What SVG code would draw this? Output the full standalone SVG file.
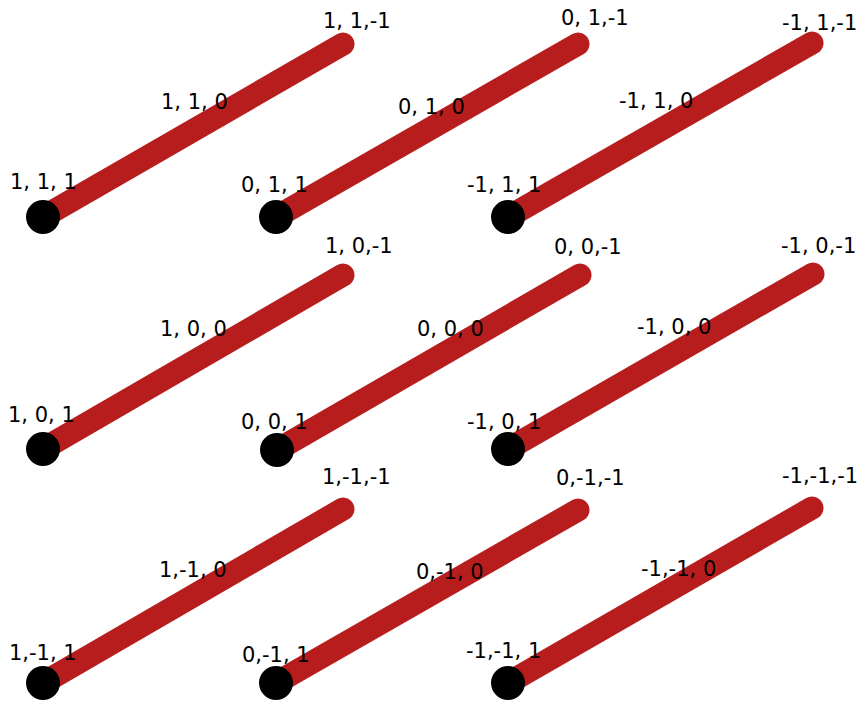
<svg xmlns="http://www.w3.org/2000/svg" width="861" height="701" viewBox="0 0 861 701">
<style>
.edge{stroke:#b81d1e;stroke-width:23;stroke-linecap:round;fill:none}
.dot{fill:#000}
text{font-family:"DejaVu Sans","Liberation Sans",sans-serif;font-size:21px;fill:#000;white-space:pre}
</style>
<rect width="861" height="701" fill="#fff"/>
<g id="connectors">
<line class="edge" x1="43" y1="217" x2="343" y2="44"/>
<line class="edge" x1="276" y1="217" x2="578" y2="44"/>
<line class="edge" x1="508" y1="217" x2="812" y2="43"/>
<line class="edge" x1="43" y1="449" x2="343" y2="275"/>
<line class="edge" x1="277" y1="450" x2="580" y2="275"/>
<line class="edge" x1="508" y1="449" x2="813" y2="274"/>
<line class="edge" x1="43" y1="683" x2="343" y2="509"/>
<line class="edge" x1="276" y1="683" x2="578" y2="510"/>
<line class="edge" x1="508" y1="683" x2="812" y2="508"/>
</g>
<g id="n_1_1">
<circle class="dot" cx="43" cy="217" r="17"/>
<text x="10" y="189">1, 1, 1</text>
<text x="161" y="109">1, 1, 0</text>
<text x="323" y="28">1, 1,-1</text>
</g>
<g id="n_0_1">
<circle class="dot" cx="276" cy="217" r="17"/>
<text x="241" y="192">0, 1, 1</text>
<text x="398" y="114">0, 1, 0</text>
<text x="561" y="25">0, 1,-1</text>
</g>
<g id="n_m1_1">
<circle class="dot" cx="508" cy="217" r="17"/>
<text x="467" y="192">-1, 1, 1</text>
<text x="619" y="108">-1, 1, 0</text>
<text x="782" y="30">-1, 1,-1</text>
</g>
<g id="n_1_0">
<circle class="dot" cx="43" cy="449" r="17"/>
<text x="8" y="422">1, 0, 1</text>
<text x="160" y="336">1, 0, 0</text>
<text x="325" y="253">1, 0,-1</text>
</g>
<g id="n_0_0">
<circle class="dot" cx="277" cy="450" r="17"/>
<text x="241" y="429">0, 0, 1</text>
<text x="417" y="336">0, 0, 0</text>
<text x="554" y="254">0, 0,-1</text>
</g>
<g id="n_m1_0">
<circle class="dot" cx="508" cy="449" r="17"/>
<text x="467" y="429">-1, 0, 1</text>
<text x="637" y="334">-1, 0, 0</text>
<text x="781" y="253">-1, 0,-1</text>
</g>
<g id="n_1_m1">
<circle class="dot" cx="43" cy="683" r="17"/>
<text x="9" y="660">1,-1, 1</text>
<text x="159" y="577">1,-1, 0</text>
<text x="322" y="484">1,-1,-1</text>
</g>
<g id="n_0_m1">
<circle class="dot" cx="276" cy="683" r="17"/>
<text x="242" y="662">0,-1, 1</text>
<text x="416" y="579">0,-1, 0</text>
<text x="556" y="485">0,-1,-1</text>
</g>
<g id="n_m1_m1">
<circle class="dot" cx="508" cy="683" r="17"/>
<text x="466" y="658">-1,-1, 1</text>
<text x="641" y="576">-1,-1, 0</text>
<text x="782" y="483">-1,-1,-1</text>
</g>
</svg>
